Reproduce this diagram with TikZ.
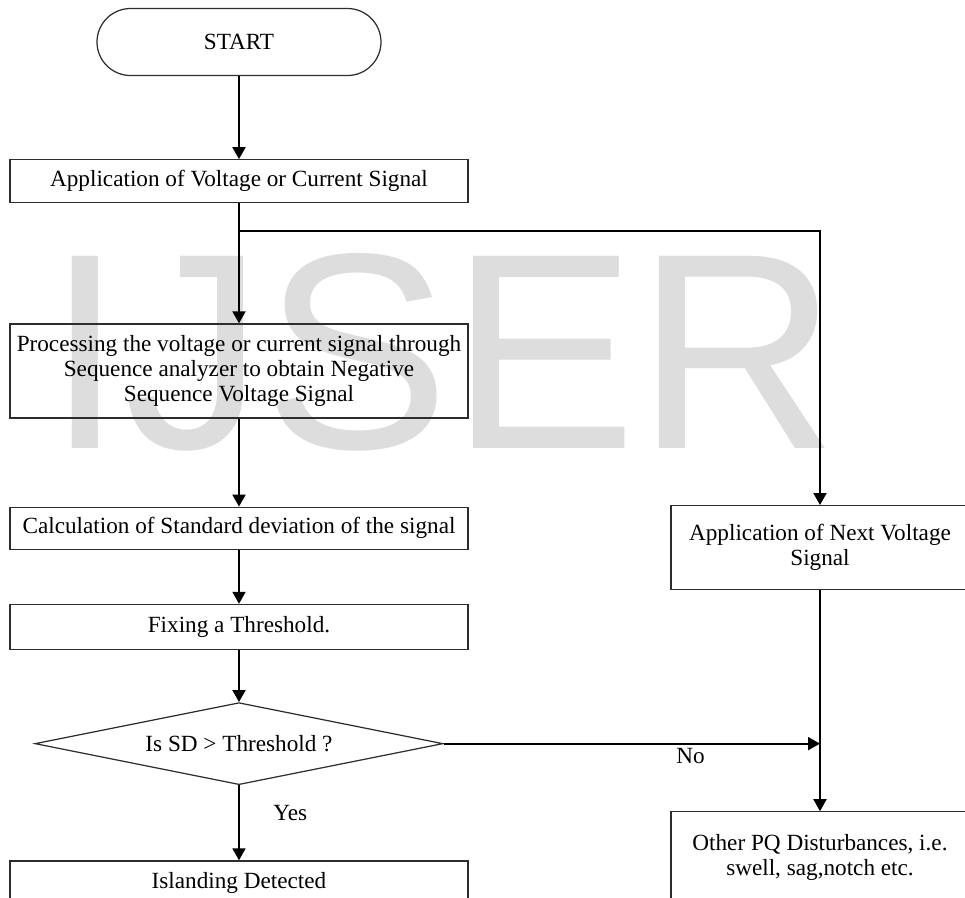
\documentclass[tikz,border=0pt]{standalone}
\usepackage{fontspec}
\setmainfont{Liberation Serif}
\newfontfamily\wmfont{Liberation Sans}
\usepackage{tikz}
\usetikzlibrary{arrows.meta, positioning, shapes.geometric}
\definecolor{wmgray}{RGB}{221,221,221}
\definecolor{edgegray}{RGB}{45,45,45}

\begin{document}
\begin{tikzpicture}[
  box/.style={draw=edgegray, line width=0.7pt, minimum width=9.16cm, minimum height=0.86cm, inner sep=2pt, align=center, font=\fontsize{13.2}{14}\selectfont},
  term/.style={box, rounded corners=0.67cm, minimum width=5.68cm, minimum height=1.34cm},
  decision/.style={box, diamond, aspect=5, inner sep=0pt, minimum width=8.16cm, minimum height=1.64cm},
  arr/.style={-{Triangle[length=0.24cm, width=0.26cm]}, line width=1.1pt},
  lbl/.style={font=\fontsize{13.2}{14}\selectfont}
]
  \useasboundingbox (0,0) rectangle (19.3,-17.94);
  \clip (0,0) rectangle (19.3,-17.94);

  % watermark behind the chart
  \node[anchor=base west, inner sep=0pt, text=wmgray, font=\wmfont\fontsize{159}{159}\selectfont] (wm) at (0.92,-8.96) {IJSER};

  % main column
  \node[term] (start) at (4.78,-0.84) {START};
  \node[box, below=1.66cm of start] (apply) {Application of Voltage or Current Signal};
  \node[box, below=2.4cm of apply, minimum height=1.88cm] (proc) {Processing the voltage or current signal through\\Sequence analyzer to obtain Negative\\Sequence Voltage Signal};
  \node[box, below=1.76cm of proc, minimum height=0.84cm] (calc) {Calculation of Standard deviation of the signal};
  \node[box, below=1.08cm of calc, minimum height=0.9cm] (fix) {Fixing a Threshold.};
  \node[decision, below=1.04cm of fix] (test) {Is SD > Threshold ?};
  \node[box, below=1.5cm of test, minimum height=0.9cm] (island) {Islanding Detected};

  % right column
  \node[box, anchor=north, minimum width=5.96cm, minimum height=1.68cm] (next) at (16.4,-10.1) {Application of Next Voltage\\Signal};
  \node[box, below=4.42cm of next, minimum width=5.96cm, minimum height=1.82cm] (other) {Other PQ Disturbances, i.e.\\swell, sag,notch etc.};

  \coordinate[below=0.56cm of apply] (split);
  \coordinate (join) at (next.south |- test.east);

  \draw[arr] (start) -- (apply);
  \draw[arr] (apply) -- (proc);
  \draw[arr] (split) -| (next);
  \draw[arr] (proc) -- (calc);
  \draw[arr] (calc) -- (fix);
  \draw[arr] (fix) -- (test);
  \draw[arr] (test) -- node[lbl, pos=0.37, right=0.55cm] {Yes} (island);
  \draw[arr] (test) -- node[lbl, pos=0.656, below=-1pt] {No} (join);
  \draw[arr] (next) -- (other);
\end{tikzpicture}
\end{document}
